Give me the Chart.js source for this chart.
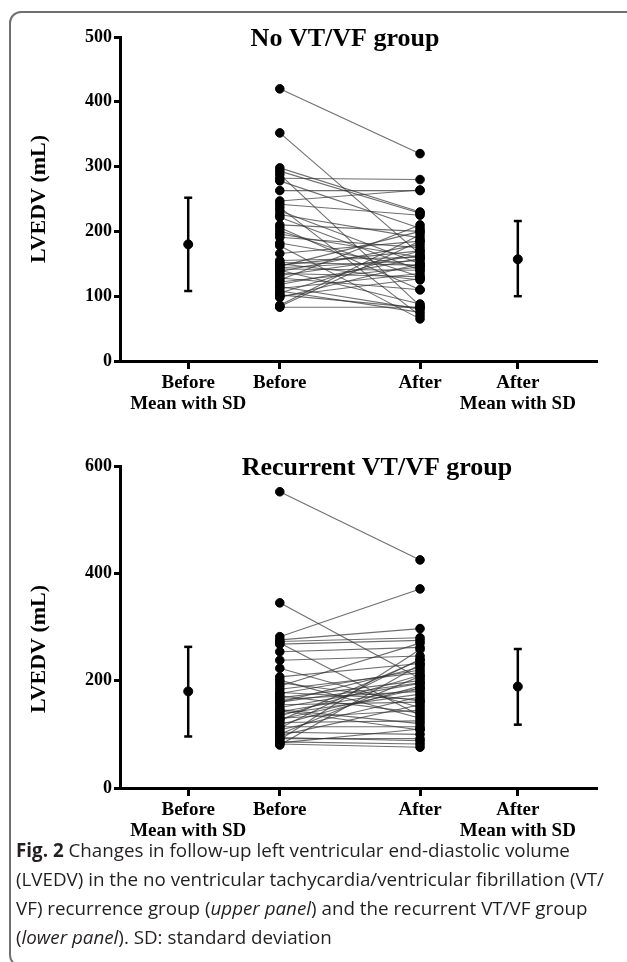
<!DOCTYPE html>
<html>
<head>
<meta charset="utf-8">
<script src="https://cdn.jsdelivr.net/npm/chart.js@4.4.0/dist/chart.umd.min.js"></script>
<style>
  html, body { margin: 0; padding: 0; background: #fff; }
  body { width: 627px; height: 962px; position: relative; overflow: hidden; }
  .frame { position: absolute; left: 9px; top: 11px; width: 640px; height: 956px;
           border: 2px solid #707070; border-radius: 12px; box-sizing: border-box; }
  .panel { position: absolute; left: 0; width: 627px; height: 430px; }
  #topPanel { top: 0; }
  #bottomPanel { top: 429px; }
  .caption { position: absolute; left: 16px; top: 836px; font-family: "Open Sans", sans-serif;
             font-size: 18.8px; line-height: 29px; color: #231f20; white-space: nowrap; }
</style>
</head>
<body>
<div class="frame"></div>
<div class="panel" id="topPanel"><canvas id="topChart"></canvas></div>
<div class="panel" id="bottomPanel"><canvas id="bottomChart"></canvas></div>
<div class="caption"><b>Fig. 2</b> Changes in follow-up left ventricular end-diastolic volume<br>(LVEDV) in the no ventricular tachycardia/ventricular fibrillation (VT/<br>VF) recurrence group (<i>upper panel</i>) and the recurrent VT/VF group<br>(<i>lower panel</i>). SD: standard deviation</div>
<script>
// x categories and where they sit on the axis (0-100)
const xLabels = [['Before', 'Mean with SD'], 'Before', 'After', ['After', 'Mean with SD']];
const xPos = [14.3, 33.5, 62.9, 83.4];

// upper panel: no VT/VF recurrence
const topTitle = 'No VT/VF group';
const topTicks = [0, 100, 200, 300, 400, 500];
const topBefore = [420, 352, 298, 293, 288, 282, 278, 263, 247, 242, 237, 232, 226, 222, 210, 206, 201, 196, 191, 182, 178, 166,
  155, 152, 150, 148, 146, 144, 142, 140, 138, 135, 132, 128, 125, 122, 118, 115, 112, 108, 105, 102, 100, 98, 86, 83, 84];
const topAfter = [320, 165, 230, 228, 85, 280, 205, 263, 264, 225, 70, 150, 190, 140, 200, 110, 130, 160, 175, 145, 65, 185,
  160, 148, 125, 170, 200, 155, 140, 88, 180, 130, 163, 110, 210, 145, 158, 80, 135, 75, 170, 82, 127, 150, 195, 83, 185];
const topMean = [180, 157];
const topSdLow = [108, 100];
const topSdHigh = [252, 216];

// lower panel: recurrent VT/VF
const bottomTitle = 'Recurrent VT/VF group';
const bottomTicks = [0, 200, 400, 600];
const bottomBefore = [552, 345, 282, 276, 273, 270, 268, 254, 238, 223, 207, 201, 190, 184, 178, 172, 168, 165, 160, 155, 150,
  146, 142, 138, 134, 130, 126, 122, 118, 114, 108, 104, 98, 94, 90, 86, 82, 80, 84, 100, 112, 128, 144, 160, 176, 196, 92];
const bottomAfter = [425, 204, 371, 297, 280, 135, 275, 262, 246, 150, 232, 130, 270, 215, 165, 140, 200, 180, 225, 160, 195,
  120, 186, 175, 210, 145, 238, 125, 190, 114, 170, 100, 155, 88, 258, 82, 76, 230, 110, 208, 240, 185, 108, 196, 220, 162, 92];
const bottomMean = [180, 189];
const bottomSdLow = [96, 118];
const bottomSdHigh = [263, 259];

const serif = '"Liberation Serif", "Times New Roman", serif';

const panelText = {
  id: 'panelText',
  afterDraw(chart, args, opts) {
    const ctx = chart.ctx;
    const area = chart.chartArea;
    ctx.save();
    ctx.fillStyle = '#000';
    ctx.textAlign = 'center';
    ctx.textBaseline = 'middle';
    ctx.font = 'bold 26px ' + serif;
    ctx.fillText(opts.title, opts.titleX, opts.titleY);
    ctx.translate(opts.yTitleX, (area.top + area.bottom) / 2 + opts.yTitleShift);
    ctx.rotate(-Math.PI / 2);
    ctx.font = 'bold 22px ' + serif;
    ctx.fillText('LVEDV (mL)', 0, 0);
    ctx.restore();
  }
};

function makeDatasets(before, after, mean, sdLow, sdHigh) {
  const sets = [];
  sets.push({
    data: before.map(v => ({ x: xPos[1], y: v })).concat(after.map(v => ({ x: xPos[2], y: v }))),
    showLine: false, pointRadius: 4.3, pointHoverRadius: 4.3,
    backgroundColor: '#000', borderColor: '#000'
  });
  sets.push({
    data: [{ x: xPos[0], y: mean[0] }, { x: xPos[3], y: mean[1] }],
    showLine: false, pointRadius: 4.5, backgroundColor: '#000', borderColor: '#000'
  });
  [0, 1].forEach(i => {
    sets.push({
      data: [{ x: xPos[i * 3], y: sdLow[i] }, { x: xPos[i * 3], y: sdHigh[i] }],
      showLine: true, borderColor: '#000', borderWidth: 2.5,
      pointStyle: 'line', pointRadius: 4, pointBorderWidth: 2.5, pointBorderColor: '#000'
    });
  });
  before.forEach((b, i) => {
    sets.push({
      data: [{ x: xPos[1], y: b }, { x: xPos[2], y: after[i] }],
      showLine: true, borderColor: 'rgba(50,50,50,0.7)', borderWidth: 1.1, pointRadius: 0
    });
  });
  return sets;
}

function makeChart(id, title, titleX, yTicks, before, after, mean, sdLow, sdHigh, areaBottom, yTitleShift) {
  return new Chart(document.getElementById(id), {
    type: 'scatter',
    data: { datasets: makeDatasets(before, after, mean, sdLow, sdHigh) },
    options: {
      responsive: true,
      maintainAspectRatio: false,
      animation: false,
      layout: { padding: { top: 37, left: 0, right: 30, bottom: 430 - areaBottom - 60 } },
      plugins: {
        legend: { display: false },
        tooltip: { enabled: false },
        panelText: { title: title, titleX: titleX, titleY: 39, yTitleX: 39, yTitleShift: yTitleShift }
      },
      scales: {
        x: {
          type: 'linear', min: 0, max: 100,
          afterBuildTicks: s => { s.ticks = xPos.map(v => ({ value: v })); },
          afterFit: s => { s.height = 60; },
          ticks: {
            autoSkip: false, maxRotation: 0, padding: 4, color: '#000',
            font: { family: serif, size: 19, weight: 'bold', lineHeight: 1.1 },
            callback: v => xLabels[xPos.indexOf(v)]
          },
          grid: { drawOnChartArea: false, tickLength: 8, tickWidth: 3, tickColor: '#000' },
          border: { color: '#000', width: 3 }
        },
        y: {
          min: yTicks[0], max: yTicks[yTicks.length - 1],
          afterBuildTicks: s => { s.ticks = yTicks.map(v => ({ value: v })); },
          afterFit: s => { s.width = 120; },
          ticks: {
            padding: 2, color: '#000',
            font: { family: serif, size: 18, weight: 'bold' }
          },
          grid: { drawOnChartArea: false, tickLength: 6, tickWidth: 3, tickColor: '#000' },
          border: { color: '#000', width: 3 }
        }
      }
    },
    plugins: [panelText]
  });
}

makeChart('topChart', topTitle, 345, topTicks, topBefore, topAfter, topMean, topSdLow, topSdHigh, 361, 0);
makeChart('bottomChart', bottomTitle, 377, bottomTicks, bottomBefore, bottomAfter, bottomMean, bottomSdLow, bottomSdHigh, 359, 22);
</script>
</body>
</html>
